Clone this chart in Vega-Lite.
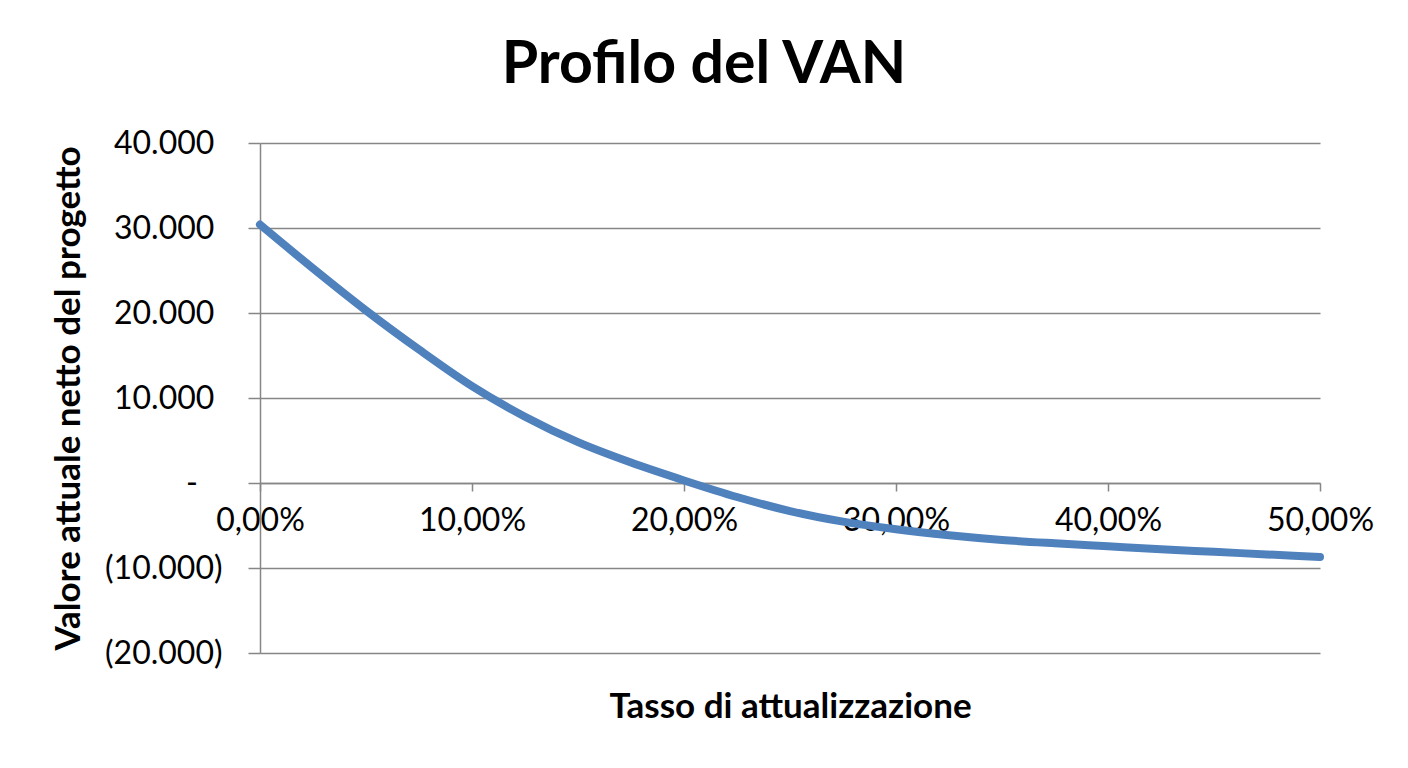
{
  "$schema": "https://vega.github.io/schema/vega-lite/v6.json",
  "width": 1060,
  "height": 510,
  "autosize": "none",
  "padding": {"left": 260, "top": 143, "right": 88, "bottom": 115},
  "background": "white",
  "title": {
    "text": "Profilo del VAN",
    "font": "Lato",
    "fontSize": 59,
    "fontWeight": "bold",
    "color": "black",
    "anchor": "middle",
    "dx": -86,
    "offset": 32
  },
  "data": {
    "values": [
      {"tasso": 0.0, "van": 30400},
      {"tasso": 0.025, "van": 25250},
      {"tasso": 0.05, "van": 20300},
      {"tasso": 0.075, "van": 15700},
      {"tasso": 0.1, "van": 11400},
      {"tasso": 0.125, "van": 7800},
      {"tasso": 0.15, "van": 4800},
      {"tasso": 0.175, "van": 2400},
      {"tasso": 0.2, "van": 300},
      {"tasso": 0.225, "van": -1650},
      {"tasso": 0.25, "van": -3300},
      {"tasso": 0.275, "van": -4550},
      {"tasso": 0.3, "van": -5450},
      {"tasso": 0.325, "van": -6150},
      {"tasso": 0.35, "van": -6700},
      {"tasso": 0.375, "van": -7100},
      {"tasso": 0.4, "van": -7450},
      {"tasso": 0.425, "van": -7800},
      {"tasso": 0.45, "van": -8100},
      {"tasso": 0.475, "van": -8400},
      {"tasso": 0.5, "van": -8700}
    ]
  },
  "mark": {
    "type": "line",
    "color": "#4F81BD",
    "strokeWidth": 8,
    "strokeCap": "round",
    "interpolate": "monotone"
  },
  "encoding": {
    "x": {
      "field": "tasso",
      "type": "quantitative",
      "scale": {"domain": [0, 0.5], "nice": false, "zero": false},
      "axis": {
        "title": "Tasso di attualizzazione",
        "values": [0, 0.1, 0.2, 0.3, 0.4, 0.5],
        "labelExpr": "replace(format(datum.value, '.2%'), '.', ',')",
        "offset": -170,
        "grid": false,
        "tickSize": 8,
        "labelPadding": 14,
        "labelFlush": false,
        "labelOverlap": false,
        "titleY": 234,
        "titleBaseline": "alphabetic",
        "titleFontSize": 35
      }
    },
    "y": {
      "field": "van",
      "type": "quantitative",
      "scale": {"domain": [-20000, 40000], "nice": false, "zero": false},
      "axis": {
        "title": "Valore attuale netto del progetto",
        "values": [-20000, -10000, 0, 10000, 20000, 30000, 40000],
        "labelExpr": "datum.value == 0 ? '-\u00a0\u00a0\u00a0\u200b' : (datum.value < 0 ? '(' + replace(format(-datum.value, ','), ',', '.') + ')' : replace(format(datum.value, ','), ',', '.') + '\u00a0\u200b')",
        "grid": true,
        "tickSize": 12,
        "labelPadding": 26,
        "labelOverlap": false,
        "titleX": -181,
        "titleBaseline": "alphabetic",
        "titleFontSize": 35
      }
    }
  },
  "config": {
    "view": {"stroke": null},
    "axis": {
      "domainColor": "#868686",
      "domainWidth": 1.5,
      "tickColor": "#868686",
      "tickWidth": 1.5,
      "gridColor": "#868686",
      "gridWidth": 1.5,
      "gridOpacity": 1,
      "labelFont": "Lato",
      "labelFontSize": 32,
      "labelColor": "black",
      "titleFont": "Lato",
      "titleFontWeight": "bold",
      "titleColor": "black"
    }
  }
}
